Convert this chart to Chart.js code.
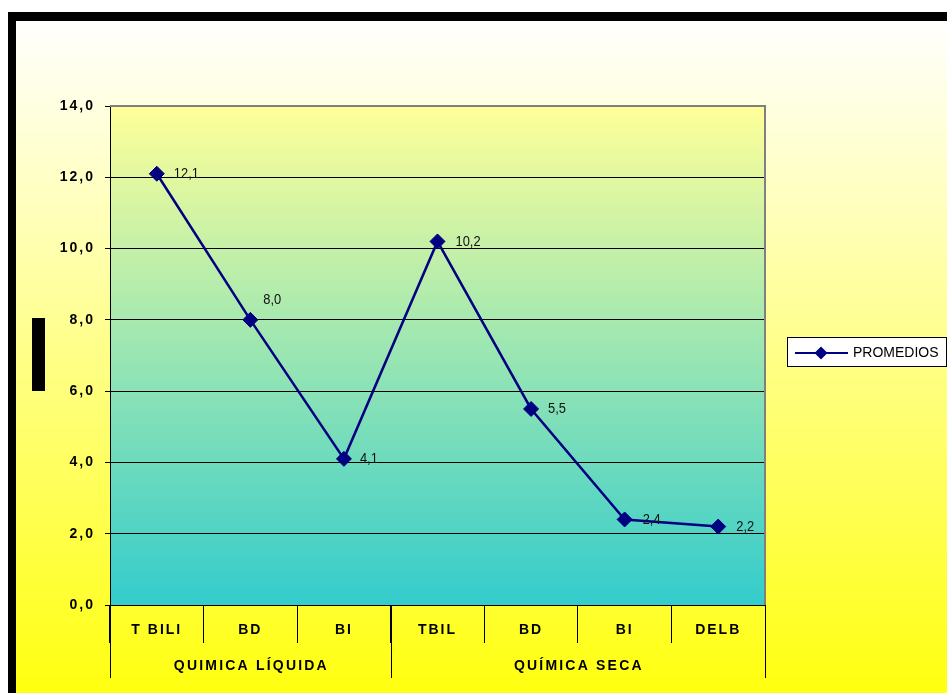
<!DOCTYPE html>
<html>
<head>
<meta charset="utf-8">
<script src="https://cdn.jsdelivr.net/npm/chart.js@4/dist/chart.umd.min.js"></script>
<style>
  html, body { margin: 0; padding: 0; background: #fff; }
  #wrap { width: 947px; height: 693px; }
</style>
</head>
<body>
<div id="wrap"><canvas id="c" width="947" height="693"></canvas></div>
<script>
// Data
const categories = ['T BILI', 'BD', 'BI', 'TBIL', 'BD', 'BI', 'DELB'];
const groupLabels = ['QUIMICA LÍQUIDA', 'QUÍMICA SECA'];
const groupSizes = [3, 4];
const seriesName = 'PROMEDIOS';
const promedios = [12.1, 8.0, 4.1, 10.2, 5.5, 2.4, 2.2];
const yMin = 0, yMax = 14, yStep = 2;

// Styling
const FONT = '"Liberation Sans", Arial, sans-serif';
const NAVY = '#000080';
// label offsets (px) from each marker
const labelNudge = [[17, 0], [13, -20], [16, 0], [18, 0], [17, 0], [18, 0], [18, 0]];

const fmt = v => Number(v).toFixed(1).replace('.', ',');

// Backgrounds, frame and plot border
const framePlugin = {
  id: 'frame',
  beforeDraw(chart) {
    const { ctx, width, height, chartArea: a } = chart;
    ctx.save();
    ctx.fillStyle = '#fff';
    ctx.fillRect(0, 0, width, height);
    const g = ctx.createLinearGradient(0, 20, 0, height);
    g.addColorStop(0, '#FFFFFF');
    g.addColorStop(1, '#FFFF10');
    ctx.fillStyle = g;
    ctx.fillRect(16, 20, width - 16, height - 20);
    ctx.fillStyle = '#000';
    ctx.fillRect(8, 12, width - 8, 9);
    ctx.fillRect(8, 12, 8, height - 12);
    const p = ctx.createLinearGradient(0, a.top, 0, a.bottom);
    p.addColorStop(0, '#FFFF99');
    p.addColorStop(1, '#33CCCC');
    ctx.fillStyle = p;
    ctx.fillRect(a.left, a.top, a.right - a.left, a.bottom - a.top);
    // axis title block
    ctx.fillStyle = '#000';
    ctx.fillRect(32, 318, 13, 73);
    ctx.restore();
    ctx.letterSpacing = '2px';
  },
  beforeDatasetsDraw(chart) {
    const { ctx, chartArea: a } = chart;
    ctx.letterSpacing = '0px';
    ctx.save();
    ctx.strokeStyle = '#808080';
    ctx.lineWidth = 2;
    ctx.beginPath();
    ctx.moveTo(a.left, a.top);
    ctx.lineTo(a.right, a.top);
    ctx.lineTo(a.right, a.bottom);
    ctx.stroke();
    ctx.restore();
  }
};

// Group separators and group captions under the category labels
const groupPlugin = {
  id: 'groups',
  afterDatasetsDraw(chart) {
    const x = chart.scales.x;
    const ctx = chart.ctx;
    const y0 = x.top, y1 = x.top + 73;
    ctx.save();
    ctx.strokeStyle = '#000';
    ctx.lineWidth = 1;
    ctx.fillStyle = '#000';
    ctx.font = 'bold 14px ' + FONT;
    ctx.letterSpacing = '2.2px';
    ctx.textAlign = 'center';
    ctx.textBaseline = 'middle';
    let start = 0;
    groupSizes.forEach((n, gi) => {
      const l = x.getPixelForValue(start - 0.5);
      const r = x.getPixelForValue(start + n - 0.5);
      [l, r].forEach(px => {
        const xx = Math.round(px) + 0.5;
        ctx.beginPath();
        ctx.moveTo(xx, y0);
        ctx.lineTo(xx, y1);
        ctx.stroke();
      });
      ctx.fillText(groupLabels[gi], (l + r) / 2 + 1, x.top + 61);
      start += n;
    });
    ctx.restore();
  }
};

// Value labels beside the markers (slightly condensed face)
const valueLabelPlugin = {
  id: 'valueLabels',
  afterDatasetsDraw(chart) {
    const ctx = chart.ctx;
    const meta = chart.getDatasetMeta(0);
    const data = chart.data.datasets[0].data;
    const sx = 0.86;
    ctx.save();
    ctx.font = '15px ' + FONT;
    ctx.fillStyle = '#111';
    ctx.textAlign = 'left';
    ctx.textBaseline = 'middle';
    meta.data.forEach((pt, i) => {
      const [dx, dy] = labelNudge[i] || [17, 0];
      ctx.save();
      ctx.translate(pt.x + dx, pt.y + dy);
      ctx.scale(sx, 1);
      ctx.fillText(fmt(data[i]), 0, 0);
      ctx.restore();
    });
    ctx.restore();
  }
};

// Boxed legend at the right
const legendPlugin = {
  id: 'boxLegend',
  afterDraw(chart) {
    const ctx = chart.ctx;
    const ds = chart.data.datasets[0];
    ctx.save();
    ctx.fillStyle = '#fff';
    ctx.fillRect(787, 337, 160, 30);
    ctx.strokeStyle = '#000';
    ctx.lineWidth = 1;
    ctx.strokeRect(787.5, 337.5, 159, 29);
    const cy = 353;
    ctx.strokeStyle = ds.borderColor;
    ctx.lineWidth = 2;
    ctx.beginPath();
    ctx.moveTo(795, cy);
    ctx.lineTo(848, cy);
    ctx.stroke();
    ctx.fillStyle = ds.pointBackgroundColor;
    ctx.beginPath();
    ctx.moveTo(821, cy - 6.5);
    ctx.lineTo(827.5, cy);
    ctx.lineTo(821, cy + 6.5);
    ctx.lineTo(814.5, cy);
    ctx.closePath();
    ctx.fill();
    ctx.fillStyle = '#000';
    ctx.font = '14px ' + FONT;
    ctx.textAlign = 'left';
    ctx.textBaseline = 'middle';
    ctx.fillText(ds.label, 853, cy);
    ctx.restore();
  }
};

new Chart(document.getElementById('c'), {
  type: 'line',
  data: {
    labels: categories,
    datasets: [{
      label: seriesName,
      data: promedios,
      borderColor: NAVY,
      backgroundColor: NAVY,
      borderWidth: 2.5,
      pointStyle: 'rectRot',
      pointRadius: 7.5,
      pointHoverRadius: 7.5,
      pointBackgroundColor: NAVY,
      pointBorderColor: NAVY,
      pointBorderWidth: 1,
      tension: 0,
      fill: false,
      clip: false
    }]
  },
  options: {
    responsive: false,
    animation: false,
    devicePixelRatio: 1,
    layout: { padding: { left: 0, right: 182, top: 106, bottom: 0 } },
    plugins: { legend: { display: false }, tooltip: { enabled: false } },
    scales: {
      x: {
        type: 'category',
        offset: true,
        grid: { display: true, offset: true, drawOnChartArea: false, tickLength: 38, color: '#000', lineWidth: 1 },
        border: { display: true, color: '#000', width: 1 },
        ticks: {
          autoSkip: false, maxRotation: 0, minRotation: 0,
          padding: -21,
          color: '#000',
          font: { family: FONT, size: 14, weight: 'bold' }
        },
        afterFit(s) { s.height = 88; }
      },
      y: {
        min: yMin, max: yMax,
        grid: { color: '#000', lineWidth: 1, tickLength: 5, drawOnChartArea: true },
        border: { display: true, color: '#000', width: 1 },
        ticks: {
          stepSize: yStep,
          padding: 10,
          color: '#000',
          font: { family: FONT, size: 14, weight: 'bold' },
          callback: v => fmt(v)
        },
        afterFit(s) { s.width = 110; }
      }
    }
  },
  plugins: [framePlugin, groupPlugin, valueLabelPlugin, legendPlugin]
});
</script>
</body>
</html>
